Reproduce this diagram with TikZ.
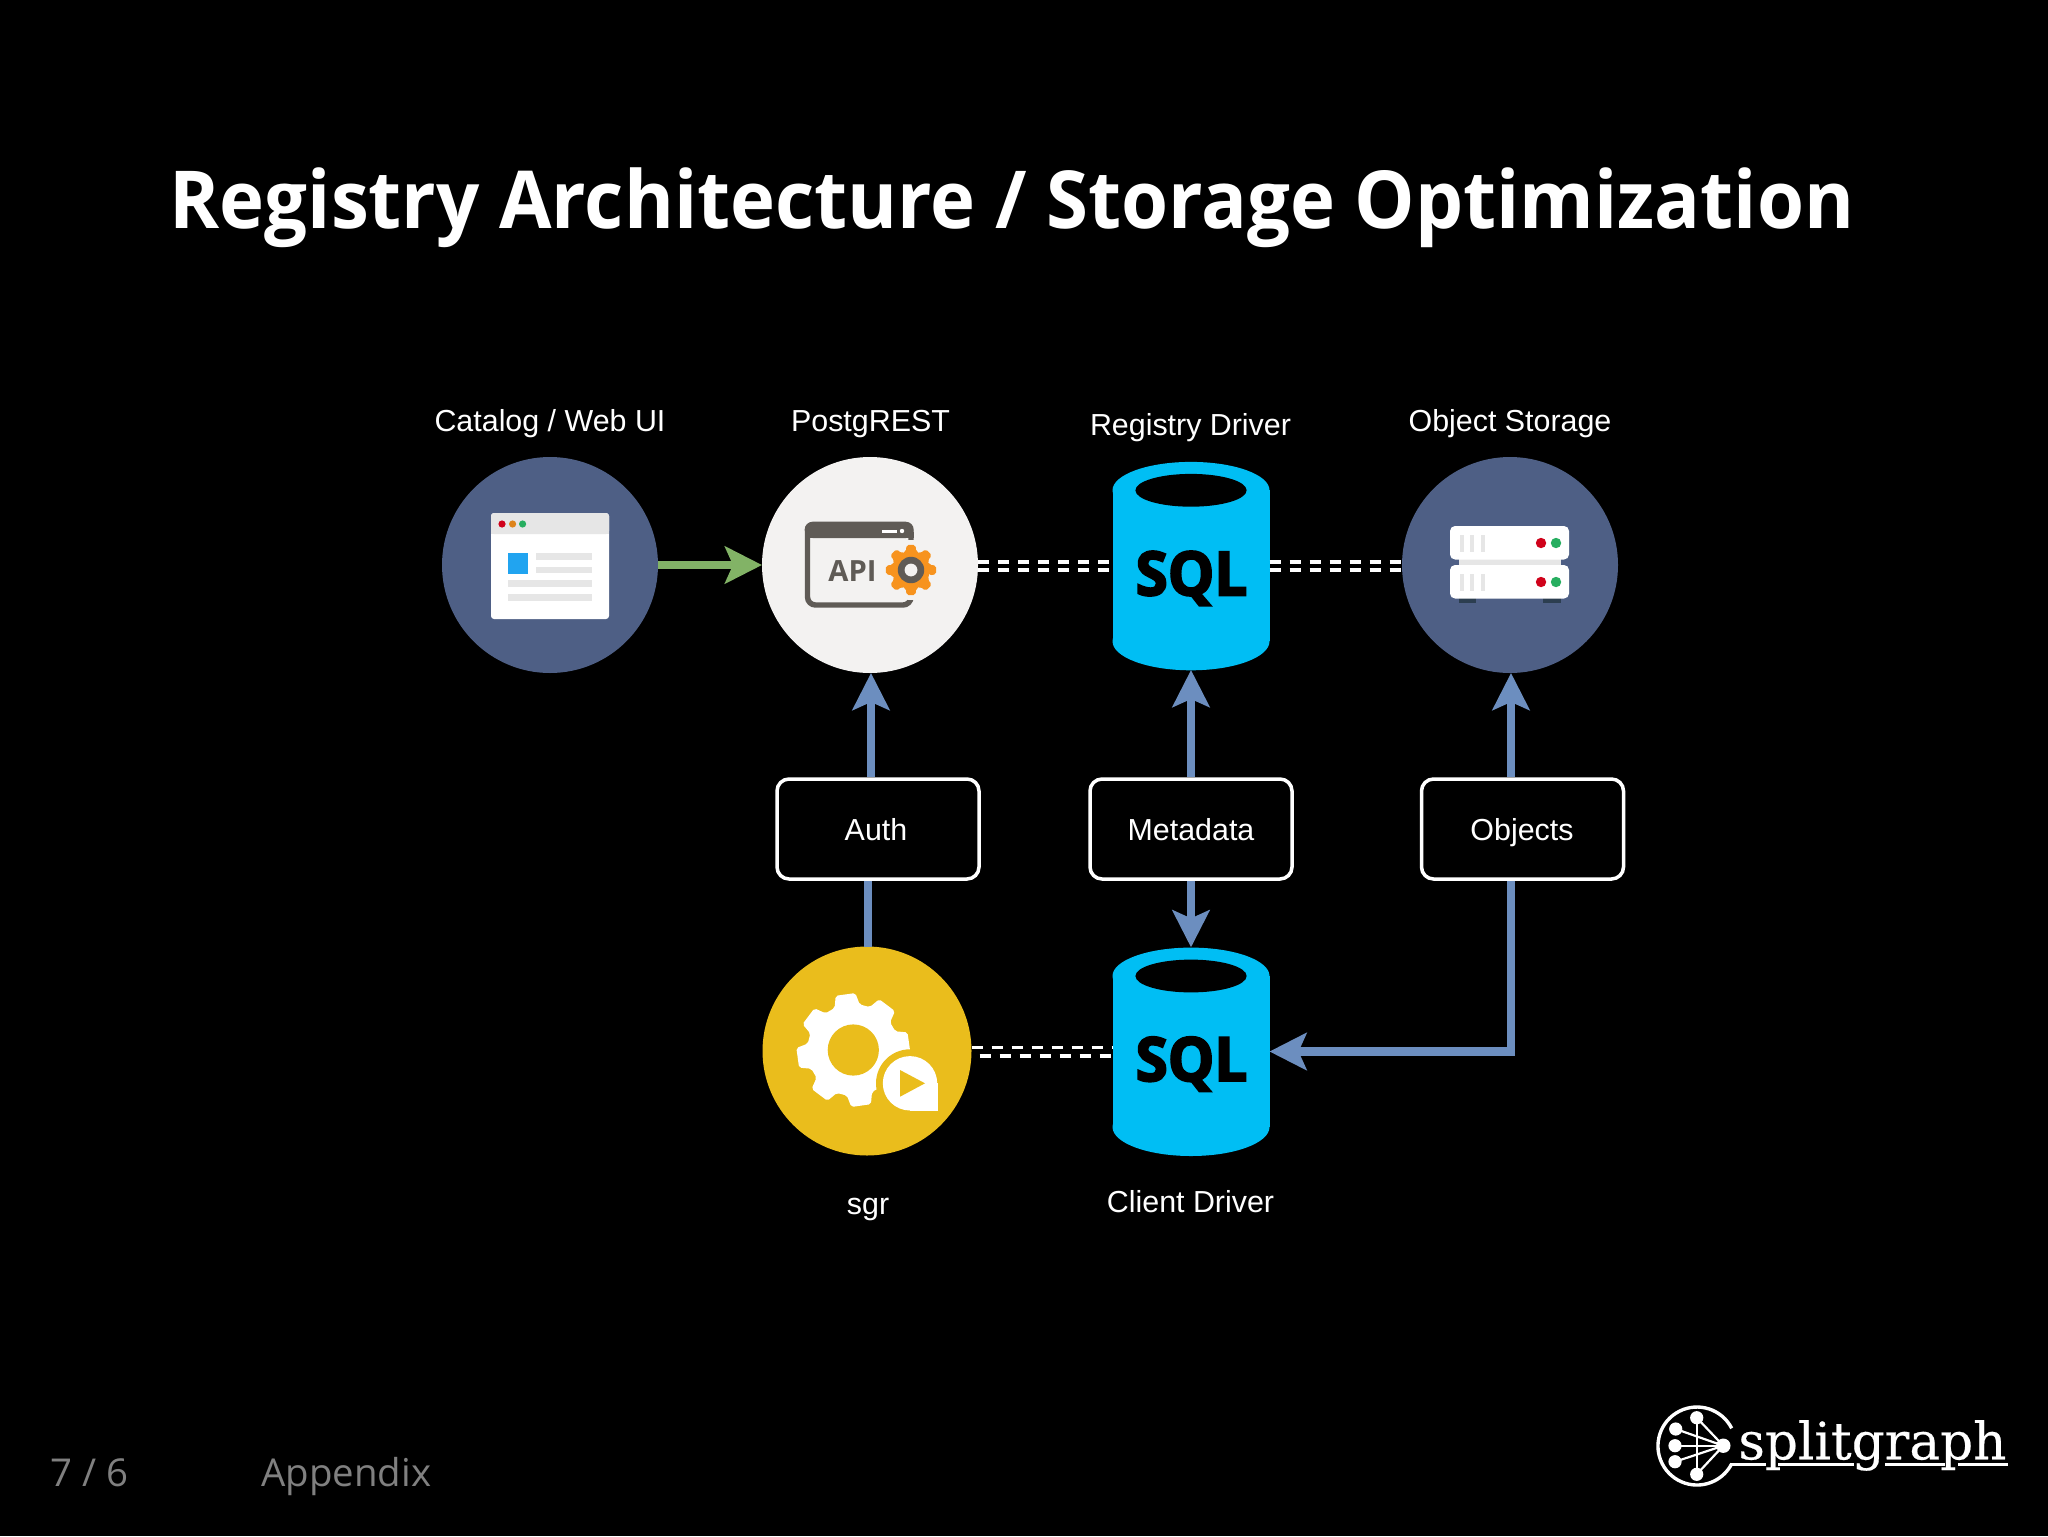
\documentclass[tikz,border=0pt]{standalone}
\usepackage{fontspec}
\usetikzlibrary{arrows.meta,calc}
\setmainfont{Liberation Sans}
\newfontfamily\titlef{Open Sans}
\newfontfamily\titlecond[FakeStretch=0.951]{Open Sans}
\newfontfamily\sqlf[FakeBold=3.2,FakeStretch=0.96]{Open Sans}
\newfontfamily\logof[FakeBold=0.4]{DejaVu Serif}
\definecolor{slate}{HTML}{4E5F85}
\definecolor{paper}{HTML}{F3F2F1}
\definecolor{gold}{HTML}{EABD1C}
\definecolor{azure}{HTML}{00BEF4}
\definecolor{linkblue}{HTML}{6C8EBF}
\definecolor{linkgreen}{HTML}{82B366}
\definecolor{icondark}{HTML}{5F5B56}
\definecolor{orangeg}{HTML}{F7931E}
\definecolor{lightg}{HTML}{E6E6E6}
\definecolor{ledred}{HTML}{D0021B}
\definecolor{ledgreen}{HTML}{27AE60}
\definecolor{winblue}{HTML}{21A4F0}
\definecolor{footfeet}{HTML}{2C3E50}
\tikzset{
  disc/.style={circle,inner sep=0pt,outer sep=0pt,minimum size=108pt},
  dbnode/.style={rectangle,inner sep=0pt,outer sep=0pt,minimum width=78.5pt,minimum height=104.2pt},
  lbl/.style={text=white,inner sep=0pt,anchor=base,font=\fontsize{15.2}{18}\selectfont},
  tagbox/.style={draw=white,line width=1.75pt,rounded corners=6pt,fill=black,inner sep=0pt,outer sep=0.9pt,minimum width=101pt,minimum height=50pt},
  flow/.style={draw=linkblue,line width=4.3pt,-{Stealth[length=18.5pt,width=18.5pt,inset=4pt,fill=linkblue]}},
  flowplain/.style={draw=linkblue,line width=4.3pt},
  flowgreen/.style={draw=linkgreen,line width=4.3pt,-{Stealth[length=18.5pt,width=18.5pt,inset=4pt,fill=linkgreen]}},
  dbl/.style={draw=white,line width=1.8pt,dash pattern=on 5.5pt off 4.5pt},
  foot/.style={text=black!50!white,inner sep=0pt,anchor=base west,font=\titlef\fontsize{19.2}{22}\selectfont},
}
\newcommand{\mygear}[6]{% cx cy tip root offset colour
  \fill[#6,rounded corners=1pt] ({#1+#4*cos(#5-16)},{#2-#4*sin(#5-16)})
    \foreach \k [evaluate=\k as \a using #5+45*\k] in {0,...,7} {
      -- ({#1+#4*cos(\a-16)},{#2-#4*sin(\a-16)})
      -- ({#1+#3*cos(\a-10)},{#2-#3*sin(\a-10)})
      -- ({#1+#3*cos(\a+10)},{#2-#3*sin(\a+10)})
      -- ({#1+#4*cos(\a+16)},{#2-#4*sin(\a+16)})
    } -- cycle;
}
\newcommand{\sqlbody}[2]{% cx cy
  \fill[azure] (#1-78.5,#2-75.5) rectangle (#1+78.5,#2+75.5);
  \fill[azure] (#1,#2-75.5) ellipse [x radius=39.25pt,y radius=14.2pt];
  \fill[azure] (#1,#2+75.5) ellipse [x radius=39.25pt,y radius=14.5pt];
  \fill[black] (#1,#2-75.5) ellipse [x radius=27.8pt,y radius=8.2pt];
  \node[text=black,inner sep=0pt,anchor=base,font=\sqlf\bfseries\fontsize{30.5}{32}\selectfont] at (#1+0.5,#2+29.5) {SQL};
}
\begin{document}
\begin{tikzpicture}[x=0.5pt,y=-0.5pt]
\fill[black] (0,0) rectangle (2048,1536);
\useasboundingbox (0,0) rectangle (2048,1536);

% title and footer
\node[text=white,inner sep=0pt,anchor=base,font=\titlecond\bfseries\fontsize{40}{46}\selectfont] (title) at (1012,228) {Registry Architecture / Storage Optimization};
\node[foot] (pageno) at (50,1486) {7 / 6};
\node[foot] (section) at (261,1486) {Appendix};

% main nodes
\node[disc,fill=slate] (catalog) at (550,565) {};
\node[disc,fill=paper] (api) at (870,565) {};
\node[disc,fill=slate] (objstore) at (1510,565) {};
\node[disc,fill=gold,minimum size=104.5pt] (sgr) at (867,1051) {};
\node[dbnode] (regdrv) at (1191,565.8) {};
\node[dbnode] (clidrv) at (1191,1051.5) {};
\sqlbody{1191}{565.8}
\sqlbody{1191}{1051.5}

% labels
\node[lbl] (l1) at (550,431.5) {Catalog / Web UI};
\node[lbl] (l2) at (870.5,431.5) {PostgREST};
\node[lbl] (l3) at (1190.5,435) {Registry Driver};
\node[lbl] (l4) at (1510,431.5) {Object Storage};
\node[lbl] (l5) at (868,1214) {sgr};
\node[lbl] (l6) at (1190.5,1212) {Client Driver};

% catalog window icon
\fill[white,rounded corners=1.5pt] (491,513) rectangle (609,619);
\fill[lightg,rounded corners=1.5pt] (491,513) rectangle (609,534);
\fill[lightg] (491,528) rectangle (609,534);
\fill[ledred] (502,524) circle [radius=1.8pt];
\fill[orangeg!90!black] (512.6,524) circle [radius=1.8pt];
\fill[ledgreen] (522.6,524) circle [radius=1.8pt];
\fill[winblue] (507.6,553) rectangle (528,573.7);
\fill[lightg] (536,553.3) rectangle (592,559.7);
\fill[lightg] (536,566.7) rectangle (592,573.3);
\fill[lightg] (507.6,580.3) rectangle (592,586.7);
\fill[lightg] (507.6,594) rectangle (592,600.7);

% API icon
\draw[icondark,line width=2.7pt,rounded corners=4pt] (807.5,525) rectangle (911,605);
\fill[icondark,rounded corners=4pt] (804.6,521.7) rectangle (913.7,538);
\fill[icondark] (804.6,532) rectangle (913.7,538);
\fill[white] (882,529.5) rectangle (896.5,532.5);
\fill[white] (902,531) circle [radius=1.1pt];
\fill[paper] (911,570) circle [radius=15pt];
\node[text=icondark,inner sep=0pt,anchor=base,font=\titlef\bfseries\fontsize{14.6}{16}\selectfont] (apiword) at (852.5,581) {API};
\mygear{911}{570}{25.5}{19}{0}{orangeg}
\fill[icondark] (911,570) circle [radius=6.6pt];
\fill[paper] (911,570) circle [radius=3.2pt];

% server icon
\fill[lightg] (1459,558) rectangle (1560.6,567);
\fill[footfeet] (1459,597) rectangle (1475.6,603);
\fill[footfeet] (1543,597) rectangle (1560.6,603);
\foreach \ty in {526,565} {
  \fill[white,rounded corners=2.5pt] (1450,\ty) rectangle (1569,\ty+33.5);
  \fill[lightg] (1459.5,\ty+9) rectangle (1463.5,\ty+26);
  \fill[lightg] (1470,\ty+9) rectangle (1474,\ty+26);
  \fill[lightg] (1480.5,\ty+9) rectangle (1484.5,\ty+26);
  \fill[ledred] (1541,\ty+17) circle [radius=2.6pt];
  \fill[ledgreen] (1556,\ty+17) circle [radius=2.6pt];
}

% sgr icon
\mygear{853.3}{1050}{57}{46}{8}{white}
\fill[gold] (853.3,1050) circle [radius=12.8pt];
\fill[gold] (910,1083.3) circle [radius=17pt];
\fill[white] (910,1083.3) circle [radius=13.6pt];
\fill[white] (910,1083.3) rectangle (937.5,1110.7);
\fill[gold] (900,1070) -- (925,1083.3) -- (900,1096.7) -- cycle;

% boxes
\node[tagbox] (auth) at (878,829) {};
\node[lbl] (authw) at (876,840) {Auth};
\node[tagbox] (meta) at (1191,829) {};
\node[lbl] (metaw) at (1191,840) {Metadata};
\node[tagbox] (objs) at (1522.5,829) {};
\node[lbl] (objsw) at (1522,840) {Objects};

% connectors
\draw[flowgreen] (catalog.east) -- (api.west);
\draw[flow] ([xshift=0.5pt]auth.north -| api.south) -- ([xshift=0.5pt]api.south);
\draw[flowplain] ([xshift=0.5pt]sgr.north) -- ([xshift=0.5pt]sgr.north |- auth.south);
\draw[flow] (meta.north) -- (regdrv.south);
\draw[flow] (meta.south) -- (clidrv.north);
\draw[flow] ([xshift=0.5pt]objs.north -| objstore.south) -- ([xshift=0.5pt]objstore.south);
\draw[flow] ([xshift=0.5pt]objs.south -| objstore.south) |- (clidrv.east);

% dashed double links
\draw[dbl] ([yshift=1.65pt]api.east) -- ([yshift=1.65pt]api.east -| regdrv.west);
\draw[dbl] ([yshift=-2.5pt]api.east) -- ([yshift=-2.5pt]api.east -| regdrv.west);
\draw[dbl] ([yshift=1.65pt]regdrv.east |- objstore.west) -- ([yshift=1.65pt]objstore.west);
\draw[dbl] ([yshift=-2.5pt]regdrv.east |- objstore.west) -- ([yshift=-2.5pt]objstore.west);
\draw[dbl] ([yshift=1.7pt]sgr.east) -- ([yshift=1.7pt]sgr.east -| clidrv.west);
\draw[dbl] ([yshift=-2.5pt,xshift=4pt]sgr.east) -- ([yshift=-2.5pt]sgr.east -| clidrv.west);

% logo
\draw[white,line width=1.7pt] (1731.7,1428.3) arc [start angle=27,end angle=333,radius=19.5pt];
\foreach \nx/\ny in {1696.7/1417.7,1675.7/1429,1675/1445.7,1675/1461.7,1696.7/1474.3} {
  \draw[white,line width=1.1pt] (\nx,\ny) -- (1723.3,1445.7);
  \fill[white] (\nx,\ny) circle [radius=3.3pt];
}
\draw[white,line width=1.1pt] (1696.7,1417.7) -- (1696.7,1474.3);
\fill[white] (1723.3,1445.7) circle [radius=3.6pt];
\node[text=white,inner sep=0pt,anchor=base west,font=\logof\fontsize{25.8}{28}\selectfont] (logoword) at (1738,1459.3) {splitgraph};
\foreach \ax/\bx in {1730/1766,1777.5/1854,1885/1945,1958/2008} {
  \fill[white] (\ax,1462.8) rectangle (\bx,1465.8);
}
\end{tikzpicture}
\end{document}
